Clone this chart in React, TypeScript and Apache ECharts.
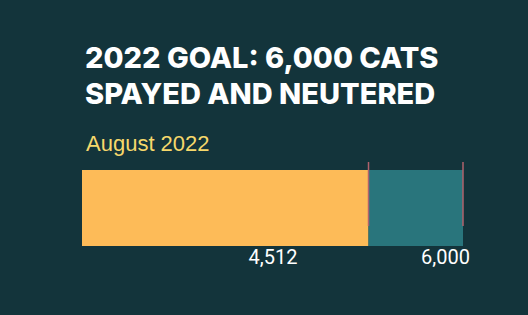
import React, { useEffect, useRef } from "react";
import * as echarts from "echarts";

const titleLines = ["2022 GOAL: 6,000 CATS", "SPAYED AND NEUTERED"];
const categories = ["August 2022"];
const achieved = [4512];
const goal = [6000];
const remaining = goal.map((g, i) => g - achieved[i]);
const markers = [4512, 6000];

const fmt = (v: number) => v.toLocaleString("en-US");

export default function App() {
  const ref = useRef<HTMLDivElement>(null);
  useEffect(() => {
    if (!ref.current) return;
    const chart = echarts.init(ref.current, undefined, { renderer: "svg" });
    chart.setOption({
      animation: false,
      backgroundColor: "#13343b",
      title: {
        text: titleLines.join("\n"),
        left: 80,
        top: 34,
        textStyle: {
          color: "#ffffff",
          fontFamily: "Inter",
          fontWeight: 800,
          fontSize: 29,
          lineHeight: 36,
        },
      },
      graphic: [
        {
          type: "text",
          left: 86,
          top: 132,
          style: {
            text: categories[0],
            fill: "#f6d86b",
            font: "22px 'Liberation Sans', Arial, sans-serif",
          },
        },
      ],
      grid: { left: 82, right: 65, top: 166, bottom: 65 },
      xAxis: { type: "value", min: 0, max: 6000, show: false },
      yAxis: { type: "category", data: categories, show: false },
      series: [
        {
          type: "bar",
          stack: "total",
          data: achieved,
          barWidth: 76,
          itemStyle: { color: "#fdbb58" },
          label: {
            show: true,
            position: ["100%", "100%"],
            align: "right",
            verticalAlign: "top",
            offset: [-71, 1],
            color: "#ffffff",
            fontFamily: "Roboto",
            fontSize: 20,
            formatter: (p: any) => fmt(p.value),
          },
        },
        {
          type: "bar",
          stack: "total",
          data: remaining,
          barWidth: 76,
          itemStyle: { color: "#29757c" },
          label: {
            show: true,
            position: ["100%", "100%"],
            align: "right",
            verticalAlign: "top",
            offset: [7, 1],
            color: "#ffffff",
            fontFamily: "Roboto",
            fontSize: 20,
            formatter: (p: any) => fmt(goal[p.dataIndex]),
          },
        },
        {
          type: "custom",
          data: markers.map((m) => [m, 0]),
          z: 10,
          renderItem: (params: any, api: any) => {
            const p = api.coord([api.value(0), categories[0]]);
            return {
              type: "line",
              shape: { x1: p[0], y1: p[1] - 46, x2: p[0], y2: p[1] + 18 },
              style: { stroke: "#b0626c", lineWidth: 1.5 },
            };
          },
        },
      ],
    });
    return () => chart.dispose();
  }, []);
  return <div ref={ref} style={{ width: 528, height: 315, position: "absolute", left: 0, top: 0 }} />;
}
